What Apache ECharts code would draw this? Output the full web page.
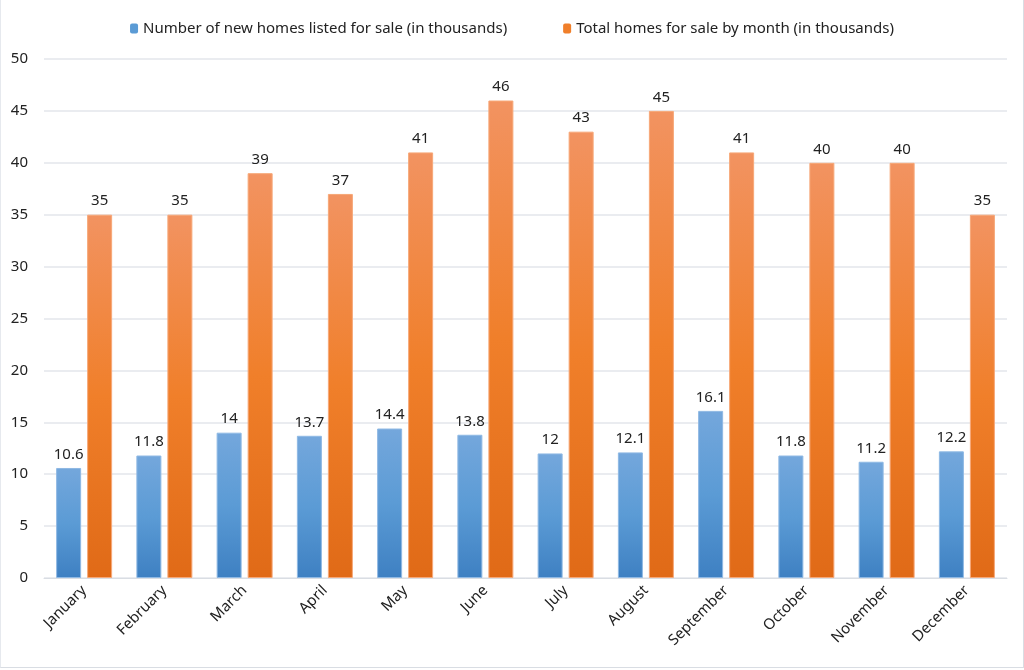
<!DOCTYPE html>
<html><head><meta charset="utf-8">
<script src="https://cdn.jsdelivr.net/npm/echarts@6/dist/echarts.min.js"></script>
<style>
html,body{margin:0;padding:0;background:#fff;}
#wrap{position:absolute;left:0;top:0;width:1022px;height:667px;border:1px solid #d9dde3;border-top:none;border-left:1px solid #e6e9ee;}
#c{width:1022px;height:667px;}
</style></head><body>
<div id="wrap"><div id="c"></div></div>
<script>
const months = ["January","February","March","April","May","June","July","August","September","October","November","December"];
const newListed = [10.6, 11.8, 14, 13.7, 14.4, 13.8, 12, 12.1, 16.1, 11.8, 11.2, 12.2];
const totalForSale = [35, 35, 39, 37, 41, 46, 43, 45, 41, 40, 40, 35];
const seriesNames = ["Number of new homes listed for sale (in thousands)", "Total homes for sale by month (in thousands)"];
const yTicks = {min: 0, max: 50, interval: 5};

const FONT = "Noto Sans";
const chart = echarts.init(document.getElementById('c'), null, {renderer:'canvas'});
function grad(top, mid, bot){
  return new echarts.graphic.LinearGradient(0,0,0,1,[{offset:0,color:top},{offset:0.5,color:mid},{offset:1,color:bot}]);
}
chart.setOption({
  animation:false,
  textStyle:{fontFamily:FONT},
  legend:{
    top:16, left:'center', itemWidth:8, itemHeight:10, itemGap:56,
    textStyle:{fontFamily:FONT,fontSize:15,color:'#222'},
    data:[{name:seriesNames[0],itemStyle:{color:'#5b9bd5',borderWidth:0}},{name:seriesNames[1],itemStyle:{color:'#f07f2a',borderWidth:0}}]
  },
  grid:{left:43,right:16,top:59,bottom:89,containLabel:false},
  xAxis:{
    type:'category', data:months,
    axisLine:{lineStyle:{color:'#d9dde3'}},
    axisTick:{show:false},
    axisLabel:{rotate:45,fontFamily:FONT,fontSize:15,color:'#222',margin:10,interval:0}
  },
  yAxis:{
    type:'value', min:yTicks.min, max:yTicks.max, interval:yTicks.interval,
    axisLine:{show:false}, axisTick:{show:false},
    axisLabel:{fontFamily:FONT,fontSize:15,color:'#222',margin:16},
    splitLine:{lineStyle:{color:'#e3e6eb',width:1.5}}
  },
  series:[
    {name:seriesNames[0],type:'bar',data:newListed,barWidth:25,barGap:'24%',
     itemStyle:{color:grad('#74a7dc','#5b9bd5','#3e80c2'),borderColor:'#8fb9e4',borderWidth:1},
     label:{show:true,position:'top',fontFamily:FONT,fontSize:15,color:'#222',distance:6}},
    {name:seriesNames[1],type:'bar',data:totalForSale,barWidth:25,
     itemStyle:{color:grad('#f29361','#f07f2a','#e06a17'),borderColor:'#f7a878',borderWidth:1},
     label:{show:true,position:'top',fontFamily:FONT,fontSize:15,color:'#222',distance:6}}
  ]
});
</script>
</body></html>
